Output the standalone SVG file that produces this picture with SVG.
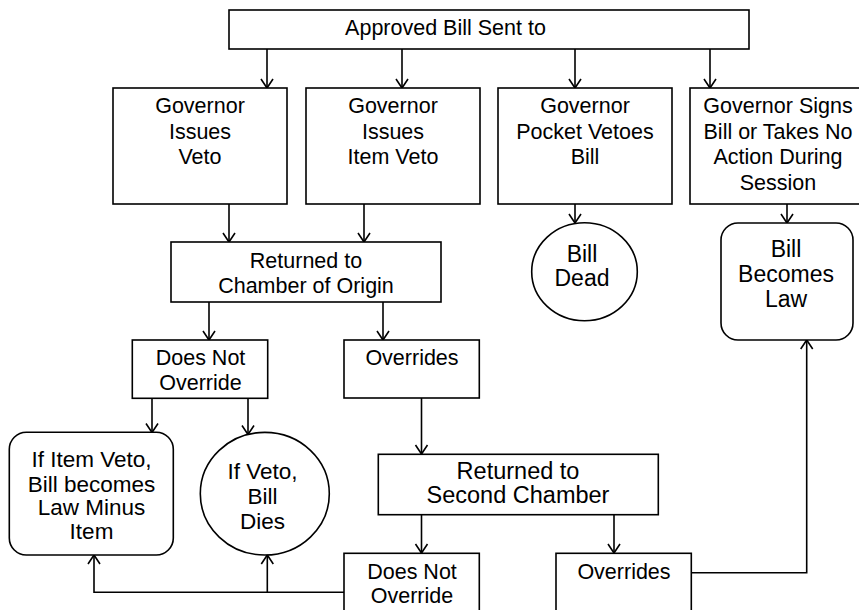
<svg xmlns="http://www.w3.org/2000/svg" width="859" height="610" viewBox="0 0 859 610">
<style>
.b{fill:#fff;stroke:#000;stroke-width:1.6}
.c{fill:none;stroke:#000;stroke-width:1.6}
text{font-family:"Liberation Sans",Arial,sans-serif;font-size:21.5px;text-anchor:middle;fill:#000}
</style>
<defs>
<marker id="a" markerUnits="userSpaceOnUse" markerWidth="20" markerHeight="20" viewBox="-12 -10 14 20" refX="0" refY="0" orient="auto">
<path d="M-9,-6 L0,0 L-9,6" fill="none" stroke="#000" stroke-width="1.6"/>
</marker>
</defs>
<rect width="859" height="610" fill="#fff"/>
<g id="connectors" class="c">
<line x1="267" y1="49" x2="267" y2="88" marker-end="url(#a)"/>
<line x1="402" y1="49" x2="402" y2="88" marker-end="url(#a)"/>
<line x1="575" y1="49" x2="575" y2="88" marker-end="url(#a)"/>
<line x1="710" y1="49" x2="710" y2="88" marker-end="url(#a)"/>
<line x1="229" y1="204" x2="229" y2="242" marker-end="url(#a)"/>
<line x1="364" y1="204" x2="364" y2="242" marker-end="url(#a)"/>
<line x1="575" y1="204" x2="575" y2="223" marker-end="url(#a)"/>
<line x1="787" y1="204" x2="787" y2="223" marker-end="url(#a)"/>
<line x1="209" y1="302" x2="209" y2="340" marker-end="url(#a)"/>
<line x1="383" y1="302" x2="383" y2="340" marker-end="url(#a)"/>
<line x1="152" y1="398" x2="152" y2="432.5" marker-end="url(#a)"/>
<line x1="248" y1="398" x2="248" y2="434.5" marker-end="url(#a)"/>
<line x1="421.5" y1="398" x2="421.5" y2="454" marker-end="url(#a)"/>
<line x1="421.5" y1="515" x2="421.5" y2="553" marker-end="url(#a)"/>
<line x1="614" y1="515" x2="614" y2="553" marker-end="url(#a)"/>
<polyline points="344,592.3 94,592.3 94,555" marker-end="url(#a)"/>
<line x1="267.3" y1="592.3" x2="267.3" y2="555" marker-end="url(#a)"/>
<polyline points="691,572.7 806.7,572.7 806.7,340" marker-end="url(#a)"/>
</g>
<g id="approved">
<rect class="b" x="229" y="10" width="520" height="39"/>
<text x="445.5" y="35">Approved Bill Sent to</text>
</g>
<g id="veto">
<rect class="b" x="113" y="88" width="174" height="116"/>
<text x="200" y="113">Governor</text>
<text x="200" y="139">Issues</text>
<text x="200" y="164">Veto</text>
</g>
<g id="itemveto">
<rect class="b" x="306" y="88" width="174" height="116"/>
<text x="393" y="113">Governor</text>
<text x="393" y="139">Issues</text>
<text x="393" y="164">Item Veto</text>
</g>
<g id="pocket">
<rect class="b" x="498" y="88" width="174" height="116"/>
<text x="585" y="113">Governor</text>
<text x="585" y="139">Pocket Vetoes</text>
<text x="585" y="164">Bill</text>
</g>
<g id="signs">
<rect class="b" x="690" y="88" width="175" height="116"/>
<text x="778" y="113">Governor Signs</text>
<text x="778" y="139">Bill or Takes No</text>
<text x="778" y="164">Action During</text>
<text x="778" y="190">Session</text>
</g>
<g id="origin">
<rect class="b" x="171" y="242" width="270" height="60"/>
<text x="306" y="268">Returned to</text>
<text x="306" y="293">Chamber of Origin</text>
</g>
<g id="dead">
<ellipse class="b" cx="584.5" cy="271.7" rx="52.8" ry="49"/>
<text x="582" y="261.7" style="font-size:23px">Bill</text>
<text x="582" y="285.7" style="font-size:23px">Dead</text>
</g>
<g id="law">
<rect class="b" x="721" y="223" width="132" height="117" rx="17" ry="17"/>
<text x="786" y="257" style="font-size:23px">Bill</text>
<text x="786" y="282" style="font-size:23px">Becomes</text>
<text x="786" y="307" style="font-size:23px">Law</text>
</g>
<g id="notoverride1">
<rect class="b" x="132.3" y="340" width="135.4" height="58.3"/>
<text x="200.5" y="365">Does Not</text>
<text x="200.5" y="390">Override</text>
</g>
<g id="overrides1">
<rect class="b" x="344" y="340" width="135.3" height="58"/>
<text x="412" y="365">Overrides</text>
</g>
<g id="minusitem">
<rect class="b" x="9.3" y="432.3" width="164" height="122.7" rx="17" ry="17"/>
<text x="91.5" y="466.7" style="font-size:22.5px">If Item Veto,</text>
<text x="91.5" y="491.7" style="font-size:22.5px">Bill becomes</text>
<text x="91.5" y="515" style="font-size:22.5px">Law Minus</text>
<text x="91.5" y="539.3" style="font-size:22.5px">Item</text>
</g>
<g id="dies">
<ellipse class="b" cx="264.8" cy="493.7" rx="64.5" ry="61.3"/>
<text x="262.5" y="478.5" style="font-size:22.5px">If Veto,</text>
<text x="262.5" y="503.5" style="font-size:22.5px">Bill</text>
<text x="262.5" y="528.5" style="font-size:22.5px">Dies</text>
</g>
<g id="second">
<rect class="b" x="378.3" y="454.3" width="280" height="60.4"/>
<text x="518" y="479" style="font-size:23.5px">Returned to</text>
<text x="518" y="502.7" style="font-size:23.5px">Second Chamber</text>
</g>
<g id="notoverride2">
<rect class="b" x="344" y="553.3" width="135.3" height="70"/>
<text x="412" y="579.3">Does Not</text>
<text x="412" y="603.3">Override</text>
</g>
<g id="overrides2">
<rect class="b" x="556" y="553.3" width="135.3" height="70"/>
<text x="624" y="579">Overrides</text>
</g>
</svg>
